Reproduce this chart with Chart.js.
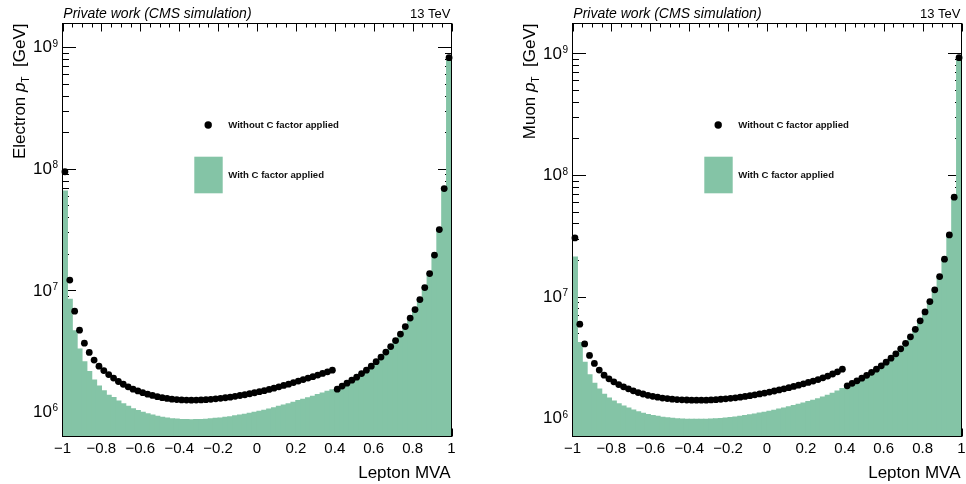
<!DOCTYPE html>
<html>
<head>
<meta charset="utf-8">
<title>Lepton MVA - C factor</title>
<script src="https://cdn.jsdelivr.net/npm/chart.js@4.4.1/dist/chart.umd.min.js"></script>
<style>
  html, body { margin: 0; padding: 0; background: #fff; }
  #wrap { position: relative; width: 966px; height: 484px; }
  canvas { position: absolute; top: 0; }
  #c-ele { left: 0; }
  #c-mu { left: 483px; }
</style>
</head>
<body>
<div id="wrap">
  <canvas id="c-ele" width="483" height="484"></canvas>
  <canvas id="c-mu" width="483" height="484"></canvas>
</div>
<script>
// --- data (80 bins of Lepton MVA, -1 .. 1) ---

const BIN_CENTERS = [
  -0.9875, -0.9625, -0.9375, -0.9125, -0.8875, -0.8625, -0.8375, -0.8125, -0.7875, -0.7625,
  -0.7375, -0.7125, -0.6875, -0.6625, -0.6375, -0.6125, -0.5875, -0.5625, -0.5375, -0.5125,
  -0.4875, -0.4625, -0.4375, -0.4125, -0.3875, -0.3625, -0.3375, -0.3125, -0.2875, -0.2625,
  -0.2375, -0.2125, -0.1875, -0.1625, -0.1375, -0.1125, -0.0875, -0.0625, -0.0375, -0.0125,
  0.0125, 0.0375, 0.0625, 0.0875, 0.1125, 0.1375, 0.1625, 0.1875, 0.2125, 0.2375,
  0.2625, 0.2875, 0.3125, 0.3375, 0.3625, 0.3875, 0.4125, 0.4375, 0.4625, 0.4875,
  0.5125, 0.5375, 0.5625, 0.5875, 0.6125, 0.6375, 0.6625, 0.6875, 0.7125, 0.7375,
  0.7625, 0.7875, 0.8125, 0.8375, 0.8625, 0.8875, 0.9125, 0.9375, 0.9625, 0.9875
];

// Electron pT sum, without C factor (markers)
const ELE_WITHOUT_C = [
  9.47e7, 1.216e7, 6.75e6, 4.71e6, 3.68e6, 3.09e6, 2.67e6, 2.38e6, 2.19e6, 2.03e6,
  1.90e6, 1.78e6, 1.69e6, 1.61e6, 1.54e6, 1.49e6, 1.44e6, 1.40e6, 1.367e6, 1.336e6,
  1.311e6, 1.291e6, 1.274e6, 1.265e6, 1.255e6, 1.251e6, 1.250e6, 1.251e6, 1.255e6, 1.262e6,
  1.270e6, 1.282e6, 1.294e6, 1.309e6, 1.324e6, 1.344e6, 1.365e6, 1.385e6, 1.412e6, 1.439e6,
  1.467e6, 1.497e6, 1.532e6, 1.570e6, 1.609e6, 1.652e6, 1.693e6, 1.743e6, 1.793e6, 1.845e6,
  1.898e6, 1.952e6, 2.009e6, 2.075e6, 2.138e6, 2.208e6, 1.540e6, 1.631e6, 1.726e6, 1.827e6,
  1.934e6, 2.067e6, 2.208e6, 2.382e6, 2.594e6, 2.825e6, 3.106e6, 3.447e6, 3.862e6, 4.369e6,
  5.037e6, 5.916e6, 6.950e6, 8.40e6, 1.054e7, 1.375e7, 1.952e7, 3.166e7, 6.88e7, 8.21e8
];

// Electron pT sum, with C factor (filled histogram)
const ELE_WITH_C = [
  6.56e7, 8.43e6, 4.65e6, 3.29e6, 2.58e6, 2.15e6, 1.83e6, 1.63e6, 1.49e6, 1.37e6,
  1.31e6, 1.23e6, 1.166e6, 1.110e6, 1.062e6, 1.028e6, 0.993e6, 0.966e6, 0.943e6, 0.921e6,
  0.904e6, 0.890e6, 0.879e6, 0.872e6, 0.866e6, 0.863e6, 0.862e6, 0.863e6, 0.866e6, 0.870e6,
  0.876e6, 0.884e6, 0.892e6, 0.903e6, 0.913e6, 0.927e6, 0.941e6, 0.955e6, 0.974e6, 0.992e6,
  1.012e6, 1.032e6, 1.057e6, 1.083e6, 1.110e6, 1.139e6, 1.168e6, 1.202e6, 1.237e6, 1.272e6,
  1.309e6, 1.346e6, 1.386e6, 1.431e6, 1.474e6, 1.523e6, 1.540e6, 1.631e6, 1.726e6, 1.827e6,
  1.934e6, 2.067e6, 2.208e6, 2.382e6, 2.594e6, 2.825e6, 3.106e6, 3.447e6, 3.862e6, 4.369e6,
  5.037e6, 5.916e6, 6.950e6, 8.40e6, 1.054e7, 1.375e7, 1.952e7, 3.166e7, 6.88e7, 8.21e8
];

// Muon pT sum, without C factor (markers)
const MU_WITHOUT_C = [
  3.04e7, 5.93e6, 4.08e6, 3.28e6, 2.82e6, 2.487e6, 2.258e6, 2.105e6, 1.989e6, 1.889e6,
  1.809e6, 1.742e6, 1.677e6, 1.624e6, 1.579e6, 1.540e6, 1.511e6, 1.486e6, 1.463e6, 1.447e6,
  1.433e6, 1.422e6, 1.414e6, 1.409e6, 1.406e6, 1.404e6, 1.404e6, 1.406e6, 1.412e6, 1.419e6,
  1.430e6, 1.441e6, 1.455e6, 1.469e6, 1.488e6, 1.508e6, 1.531e6, 1.555e6, 1.581e6, 1.608e6,
  1.639e6, 1.671e6, 1.706e6, 1.742e6, 1.782e6, 1.823e6, 1.868e6, 1.915e6, 1.966e6, 2.019e6,
  2.077e6, 2.145e6, 2.220e6, 2.306e6, 2.404e6, 2.530e6, 1.843e6, 1.933e6, 2.026e6, 2.133e6,
  2.249e6, 2.380e6, 2.529e6, 2.693e6, 2.887e6, 3.114e6, 3.379e6, 3.714e6, 4.122e6, 4.662e6,
  5.375e6, 6.313e6, 7.484e6, 9.096e6, 1.136e7, 1.460e7, 2.030e7, 3.217e7, 6.57e7, 9.24e8
];

// Muon pT sum, with C factor (filled histogram)
const MU_WITH_C = [
  2.11e7, 4.19e6, 2.87e6, 2.27e6, 1.93e6, 1.73e6, 1.57e6, 1.46e6, 1.38e6, 1.31e6,
  1.255e6, 1.21e6, 1.165e6, 1.128e6, 1.097e6, 1.07e6, 1.049e6, 1.032e6, 1.016e6, 1.005e6,
  0.995e6, 0.988e6, 0.982e6, 0.978e6, 0.976e6, 0.975e6, 0.975e6, 0.977e6, 0.981e6, 0.986e6,
  0.993e6, 1.001e6, 1.010e6, 1.020e6, 1.033e6, 1.047e6, 1.063e6, 1.080e6, 1.098e6, 1.117e6,
  1.138e6, 1.160e6, 1.185e6, 1.210e6, 1.238e6, 1.266e6, 1.297e6, 1.330e6, 1.365e6, 1.402e6,
  1.442e6, 1.490e6, 1.542e6, 1.601e6, 1.669e6, 1.750e6, 1.843e6, 1.933e6, 2.026e6, 2.133e6,
  2.249e6, 2.380e6, 2.529e6, 2.693e6, 2.887e6, 3.114e6, 3.379e6, 3.714e6, 4.122e6, 4.662e6,
  5.375e6, 6.313e6, 7.484e6, 9.096e6, 1.136e7, 1.460e7, 2.030e7, 3.217e7, 6.57e7, 9.24e8
];

const X_TICKS = [-1, -0.8, -0.6, -0.4, -0.2, 0, 0.2, 0.4, 0.6, 0.8, 1];
const X_TICK_LABELS = ["\u22121", "\u22120.8", "\u22120.6", "\u22120.4", "\u22120.2", "0", "0.2", "0.4", "0.6", "0.8", "1"];
const Y_TICK_EXPONENTS = [6, 7, 8, 9];
const LEGEND_LABELS = ["Without C factor applied", "With C factor applied"];

// --- style ---

const GREEN = "rgb(132, 196, 166)";
const FONT = "'Liberation Sans', Arial, Helvetica, sans-serif";

const PANELS = [
  {
    canvas: "c-ele", lepton: "Electron",
    without: ELE_WITHOUT_C, withC: ELE_WITH_C,
    yMin: 6.28e5, yMax: 1.57e9,
    axisWidth: 62.5, padRight: 31.5
  },
  {
    canvas: "c-mu", lepton: "Muon",
    without: MU_WITHOUT_C, withC: MU_WITH_C,
    yMin: 7.06e5, yMax: 1.765e9,
    axisWidth: 89.5, padRight: 4.5
  }
];

// --- ROOT-like decorations: inner ticks, frame, legend and texts ---

function makeRootPlugin(panel) {
  return {
    id: "rootStyle",
    beforeDatasetsDraw(chart) {
      const ctx = chart.ctx, a = chart.chartArea;
      const xs = chart.scales.x, ys = chart.scales.y;
      ctx.save();
      ctx.strokeStyle = "#000";
      ctx.lineWidth = 1;
      ctx.beginPath();
      for (let k = 0; k <= 40; k++) {
        const px = Math.round(xs.getPixelForValue(-1 + k * 0.05)) + 0.5;
        const len = k % 4 === 0 ? 8 : 4;
        ctx.moveTo(px, a.top); ctx.lineTo(px, a.top + len);
        ctx.moveTo(px, a.bottom); ctx.lineTo(px, a.bottom - len);
      }
      for (let e = 5; e <= 9; e++) {
        for (let m = 1; m <= 9; m++) {
          const v = m * Math.pow(10, e);
          if (v < ys.min || v > ys.max) continue;
          const py = Math.round(ys.getPixelForValue(v)) + 0.5;
          const len = m === 1 ? 13.5 : 6.5;
          ctx.moveTo(a.left, py); ctx.lineTo(a.left + len, py);
          ctx.moveTo(a.right, py); ctx.lineTo(a.right - len, py);
        }
      }
      ctx.stroke();
      ctx.restore();
    },
    afterDatasetsDraw(chart) {
      const ctx = chart.ctx, a = chart.chartArea;
      ctx.save();
      // frame
      ctx.strokeStyle = "#000";
      ctx.lineWidth = 1;
      ctx.strokeRect(a.left, a.top, a.width, a.height);
      // legend
      ctx.fillStyle = "#000";
      ctx.beginPath();
      ctx.arc(a.left + 145.7, 125, 3.7, 0, Math.PI * 2);
      ctx.fill();
      ctx.fillStyle = GREEN;
      ctx.fillRect(a.left + 131.8, 156.7, 28.4, 36.6);
      ctx.fillStyle = "#111";
      ctx.font = "bold 9.6px " + FONT;
      ctx.textAlign = "left";
      ctx.textBaseline = "middle";
      ctx.fillText(LEGEND_LABELS[0], a.left + 165.7, 125.5);
      ctx.fillText(LEGEND_LABELS[1], a.left + 165.7, 175.5);
      ctx.restore();
    },
    afterDraw(chart) {
      const ctx = chart.ctx, a = chart.chartArea;
      const ys = chart.scales.y;
      ctx.save();
      ctx.fillStyle = "#000";

      // header
      ctx.textBaseline = "alphabetic";
      ctx.font = "italic 14px " + FONT;
      ctx.textAlign = "left";
      ctx.fillText("Private work (CMS simulation)", a.left + 0.8, 18);
      ctx.font = "13px " + FONT;
      ctx.textAlign = "right";
      ctx.fillText("13 TeV", a.right - 1, 18);

      // x title
      ctx.font = "17px " + FONT;
      ctx.fillText("Lepton MVA", a.right - 1, 478);

      // y tick labels 10^n
      Y_TICK_EXPONENTS.forEach(function (e) {
        const py = ys.getPixelForValue(Math.pow(10, e));
        const right = a.left - 4.5;
        ctx.font = "10px " + FONT;
        const ew = ctx.measureText(String(e)).width;
        ctx.textAlign = "left";
        ctx.textBaseline = "alphabetic";
        ctx.fillText(String(e), right - ew, py - 0.5);
        ctx.font = "17px " + FONT;
        ctx.textAlign = "right";
        ctx.textBaseline = "middle";
        ctx.fillText("10", right - ew - 0.5, py + 0.5);
      });

      // y title: "<Lepton> p_T [GeV]", rotated
      const parts = [
        { t: panel.lepton + " ", f: "17px " + FONT, dy: 0 },
        { t: "p", f: "italic 17px " + FONT, dy: 0 },
        { t: "T", f: "10px " + FONT, dy: 3.5 },
        { t: "  [GeV]", f: "17px " + FONT, dy: 0 }
      ];
      let total = 0;
      parts.forEach(function (p) {
        ctx.font = p.f;
        p.w = ctx.measureText(p.t).width;
        total += p.w;
      });
      ctx.translate(a.left - 37.5, a.top);
      ctx.rotate(-Math.PI / 2);
      ctx.textAlign = "left";
      ctx.textBaseline = "alphabetic";
      let x = -total;
      parts.forEach(function (p) {
        ctx.font = p.f;
        ctx.fillText(p.t, x, p.dy);
        x += p.w;
      });
      ctx.restore();
    }
  };
}

function buildPanel(panel) {
  const bars = BIN_CENTERS.map(function (x, i) { return { x: x, y: panel.withC[i] }; });
  const dots = BIN_CENTERS.map(function (x, i) { return { x: x, y: panel.without[i] }; });

  return new Chart(document.getElementById(panel.canvas), {
    type: "bar",
    data: {
      datasets: [
        {
          type: "scatter",
          label: LEGEND_LABELS[0],
          data: dots,
          pointRadius: 3.4,
          pointBackgroundColor: "#000",
          pointBorderWidth: 0,
          clip: false,
          order: 0
        },
        {
          type: "bar",
          label: LEGEND_LABELS[1],
          data: bars,
          backgroundColor: GREEN,
          borderWidth: 0,
          borderSkipped: false,
          inflateAmount: 0.6,
          barPercentage: 1,
          categoryPercentage: 1,
          grouped: false,
          order: 1
        }
      ]
    },
    options: {
      responsive: false,
      animation: false,
      events: [],
      devicePixelRatio: 1,
      layout: { padding: { top: 23.5, right: panel.padRight, bottom: 0, left: 0 } },
      plugins: {
        legend: { display: false },
        tooltip: { enabled: false }
      },
      scales: {
        x: {
          type: "linear",
          offset: false,
          min: -1,
          max: 1,
          grid: { display: false, drawTicks: false, offset: false },
          border: { display: false },
          ticks: {
            color: "#000",
            font: { family: FONT, size: 15 },
            padding: 3,
            autoSkip: false,
            maxRotation: 0,
            callback: function (value, index) { return X_TICK_LABELS[index]; }
          },
          afterBuildTicks: function (scale) {
            scale.ticks = X_TICKS.map(function (v) { return { value: v }; });
          },
          afterFit: function (scale) {
            scale.height = 47.5;
            scale.paddingLeft = 0;
            scale.paddingRight = 0;
          }
        },
        y: {
          type: "logarithmic",
          min: panel.yMin,
          max: panel.yMax,
          grid: { display: false, drawTicks: false },
          border: { display: false },
          ticks: { display: false },
          afterFit: function (scale) {
            scale.width = panel.axisWidth;
            scale.paddingTop = 0;
            scale.paddingBottom = 0;
          }
        }
      }
    },
    plugins: [makeRootPlugin(panel)]
  });
}

PANELS.forEach(buildPanel);
</script>
</body>
</html>
